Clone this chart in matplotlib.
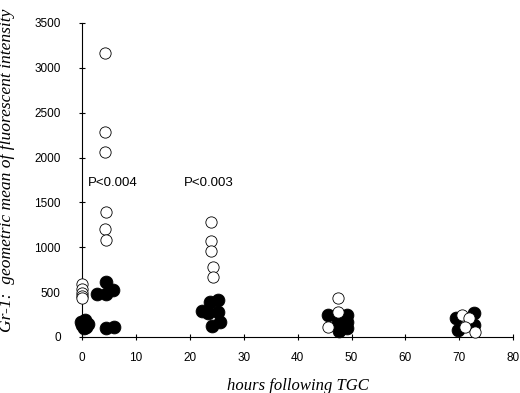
import matplotlib
matplotlib.use("Agg")
import matplotlib.pyplot as plt

# Open circles (one group)
open_x = [0, 0, 0, 0, 0,
          4.2, 4.2, 4.2, 4.5, 4.2, 4.5,
          23.9, 23.9, 23.9, 24.2, 24.2,
          47.4, 47.4, 45.7,
          70.4, 71.7, 71.1, 72.9]
open_y = [590, 540, 495, 460, 430,
          3170, 2285, 2065, 1390, 1205, 1080,
          1280, 1075, 960, 785, 670,
          430, 282, 115,
          245, 210, 115, 60]

# Filled circles (other group)
fill_x = [-0.3, 0.5, 0.0, 1.0, 0.3, 0.8,
          2.8, 4.5, 4.5, 5.8, 4.5, 5.9,
          22.2, 23.7, 25.3, 23.4, 25.3, 25.6, 24.1,
          45.7, 47.4, 49.1, 49.1, 47.7, 49.2,
          69.4, 72.7, 72.7, 69.8]
fill_y = [170, 190, 130, 150, 100, 110,
          480, 610, 480, 520, 100, 110,
          290, 390, 410, 270, 280, 165, 118,
          245, 170, 245, 170, 70, 95,
          210, 265, 135, 80]

p_texts = ["P<0.004", "P<0.003"]
p_x = [1.0, 18.8]
p_y = [1720, 1720]

fig = plt.figure(figsize=(5.2, 3.93), dpi=100)
ax = fig.add_axes([0.158, 0.1425, 0.829, 0.799])

ax.scatter(fill_x, fill_y, s=85, c="black", edgecolors="black", linewidths=0.6,
           zorder=3, clip_on=False)
ax.scatter(open_x, open_y, s=66, c="white", edgecolors="black", linewidths=0.6,
           zorder=4, clip_on=False)

for t, x, y in zip(p_texts, p_x, p_y):
    ax.text(x, y, t, fontsize=9.5, family="Liberation Sans", va="center", ha="left")

ax.set_xlim(0, 80)
ax.set_ylim(0, 3500)
ax.set_xticks(range(0, 81, 10))
ax.set_yticks(range(0, 3501, 500))
for s in ["top", "right"]:
    ax.spines[s].set_visible(False)
for s in ["left", "bottom"]:
    ax.spines[s].set_linewidth(0.8)
ax.tick_params(direction="inout", length=5, width=0.8, labelsize=8.5)
ax.tick_params(axis="y", pad=13)
ax.tick_params(axis="x", pad=8)
for lab in ax.get_xticklabels() + ax.get_yticklabels():
    lab.set_family("Liberation Sans")

ax.set_xlabel("hours following TGC", fontsize=12, family="Liberation Serif", style="italic")
ax.set_ylabel("Gr-1:  geometric mean of fluorescent intensity", fontsize=12.6,
              family="Liberation Serif", style="italic")
ax.yaxis.set_label_coords(-0.155, 0.53)
ax.xaxis.set_label_coords(0.5, -0.132)

fig.savefig("out.png", dpi=100)
